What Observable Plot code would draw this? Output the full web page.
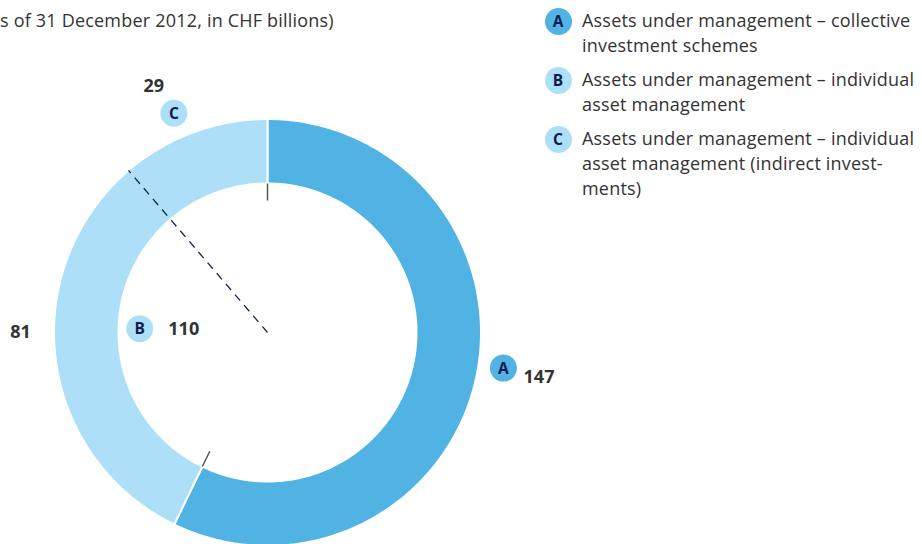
<!DOCTYPE html>
<html>
<head>
<meta charset="utf-8">
<script src="https://cdn.jsdelivr.net/npm/d3@7"></script>
<script src="https://cdn.jsdelivr.net/npm/@observablehq/plot@0.6"></script>
<style>
  body { margin: 0; background: #fff; font-family: "Open Sans", sans-serif; }
  #wrap { position: relative; width: 922px; height: 544px; overflow: hidden; }
  #chart { position: absolute; left: 0; top: 0; }
  #title { position: absolute; left: 0; top: 7.5px; font-size: 18px; letter-spacing: 0.2px; line-height: 25px; color: #333; white-space: nowrap; }
  #legend { position: absolute; left: 544.5px; top: 7.5px; }
  .item { position: relative; padding-left: 37.5px; margin-bottom: 9px; font-size: 18px; letter-spacing: 0.2px; line-height: 25px; color: #333; white-space: nowrap; }
  .badge { position: absolute; left: 0; top: 0; width: 27px; height: 27px; border-radius: 50%; text-align: center; line-height: 27px; font-size: 15.5px; letter-spacing: 0; font-weight: 700; color: #0d1b4f; }
</style>
</head>
<body>
<div id="wrap">
  <div id="chart"></div>
  <div id="title"></div>
  <div id="legend"></div>
</div>
<script>
// ---- data ----
const titleText = "s of 31 December 2012, in CHF billions)";
const codes = ["A", "B", "C"];
const values = [147, 81, 29];          // A, B (direct part), C (indirect part of B)
const ringGroup = ["A", "B", "B"];     // ring segment each value belongs to
const legendLines = [
  ["Assets under management – collective", "investment schemes"],
  ["Assets under management – individual", "asset management"],
  ["Assets under management – individual", "asset management (indirect invest-", "ments)"]
];
const darkBlue = "#50b3e3";
const lightBlue = "#ade0f8";
const groupColors = {A: darkBlue, B: lightBlue};
const badgeColors = [darkBlue, lightBlue, lightBlue];

// ---- geometry (layout) ----
const R_OUT = 213.5, R_IN = 149;
const total = d3.sum(values);
const polar = (r, deg) => {
  const a = deg * Math.PI / 180;
  return {x: r * Math.sin(a), y: -r * Math.cos(a)};
};
// cumulative angles per value
let acc = 0;
const slices = values.map((v, i) => {
  const t0 = acc / total * 360; acc += v; const t1 = acc / total * 360;
  return {code: codes[i], value: v, t0, t1, mid: (t0 + t1) / 2, group: ringGroup[i]};
});
// ring groups
const groups = Array.from(d3.group(slices, d => d.group), ([g, s]) => ({
  group: g, value: d3.sum(s, d => d.value), t0: d3.min(s, d => d.t0), t1: d3.max(s, d => d.t1)
})).map(g => ({...g, mid: (g.t0 + g.t1) / 2}));

function arcPolygon(t0, t1, r0, r1) {
  const n = Math.max(4, Math.ceil(t1 - t0));
  const pts = [];
  for (let i = 0; i <= n; i++) pts.push(polar(r1, t0 + (t1 - t0) * i / n));
  for (let i = n; i >= 0; i--) pts.push(polar(r0, t0 + (t1 - t0) * i / n));
  pts.push(pts[0]);
  return pts;
}

const ringMarks = groups.map(g =>
  Plot.line(arcPolygon(g.t0, g.t1, R_IN, R_OUT), {
    x: "x", y: "y", fill: groupColors[g.group], stroke: "white", strokeWidth: 2, curve: "linear"
  })
);

// dashed divider between B (direct) and C (indirect)
const split = slices.filter(s => s.group === "B")[0].t1;
const dashData = [{a: polar(0, split), b: polar(R_OUT, split)}];
// boundary ticks of segment A inside the hole
const gA = groups.find(g => g.group === "A");
const tickData = [gA.t0, gA.t1].map(t => ({a: polar(R_IN - 17, t), b: polar(R_IN, t)}));

// label anchors derived from segment angles
const sA = slices[0], sB = slices[1], sC = slices[2];
const gB = groups.find(g => g.group === "B");
const badgeData = [
  {code: "A", ...polar(239, sA.mid), dx: 3, dy: -18, fill: badgeColors[0]},
  {code: "B", ...polar(128, gB.mid), dx: -3, dy: 25, fill: badgeColors[1]},
  {code: "C", ...polar(238, sC.mid), dx: -11, dy: 4, fill: badgeColors[2]}
];
const numberData = [
  {label: String(sA.value), ...polar(275, sA.mid), dx: 3.5, dy: -16.5},
  {label: String(gB.value), ...polar(128, gB.mid), dx: 41, dy: 25},
  {label: String(sB.value), ...polar(247, sB.mid), dx: -2, dy: -32},
  {label: String(sC.value), ...polar(270, sC.mid), dx: -20, dy: 7}
];

const marks = [
  ...ringMarks,
  Plot.link(dashData, {x1: d => d.a.x, y1: d => d.a.y, x2: d => d.b.x, y2: d => d.b.y,
    stroke: "#14224f", strokeWidth: 1.3, strokeDasharray: "8,6"}),
  Plot.link(tickData, {x1: d => d.a.x, y1: d => d.a.y, x2: d => d.b.x, y2: d => d.b.y,
    stroke: "#555", strokeWidth: 1.5}),
];
badgeData.forEach(d => {
  marks.push(Plot.dot([d], {x: "x", y: "y", r: 13.5, fill: d.fill, stroke: null, dx: d.dx, dy: d.dy}));
  marks.push(Plot.text([d], {x: "x", y: "y", text: "code", dx: d.dx, dy: d.dy + 0.5, fill: "#0d1b4f",
    fontSize: 15.5, fontWeight: 700, lineAnchor: "middle", textAnchor: "middle"}));
});
numberData.forEach(d => {
  marks.push(Plot.text([d], {x: "x", y: "y", text: "label", dx: d.dx, dy: d.dy, fill: "#333",
    fontSize: 18, fontWeight: 700, lineAnchor: "middle", textAnchor: "middle"}));
});

const chart = Plot.plot({
  width: 922, height: 544, margin: 0,
  x: {domain: [-267, 655], range: [0, 922], axis: null},
  y: {domain: [-332, 212], range: [0, 544], axis: null},
  style: {fontFamily: "'Open Sans', sans-serif", background: "transparent"},
  marks
});
document.getElementById("chart").appendChild(chart);

// title and legend
document.getElementById("title").textContent = titleText;
const legend = d3.select("#legend");
codes.forEach((c, i) => {
  const item = legend.append("div").attr("class", "item");
  item.append("div").attr("class", "badge").style("background", badgeColors[i]).text(c);
  item.selectAll("div.line").data(legendLines[i]).join("div").attr("class", "line").text(d => d);
});
</script>
</body>
</html>
